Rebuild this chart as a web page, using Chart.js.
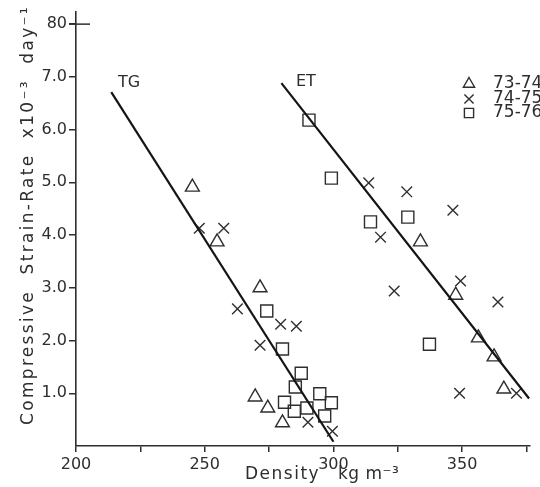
<!DOCTYPE html>
<html>
<head>
<meta charset="utf-8">
<title>Compressive strain-rate vs density</title>
<script src="https://cdn.jsdelivr.net/npm/chart.js@4.4.0/dist/chart.umd.min.js"></script>
<style>
    html, body { margin: 0; padding: 0; background: #ffffff; }
    #wrap { width: 540px; height: 487px; }
</style>
</head>
<body>
<div id="wrap"><canvas id="chart" width="540" height="487"></canvas></div>
<script>
// season 73-74 (triangles)
var tri73Density = [245.2, 254.8, 271.5, 269.6, 274.5, 280.2, 333.8, 347.5, 356.3, 362.4, 366.2];
var tri73Rate    = [4.91, 3.87, 3.00, 0.93, 0.72, 0.44, 3.87, 2.86, 2.05, 1.69, 1.08];

// season 74-75 (crosses)
var cross74Density = [247.9, 257.4, 262.7, 279.5, 285.6, 271.5, 290.1, 299.6, 313.7, 328.5, 346.4, 318.3, 323.6, 349.4, 363.9, 349.0, 371.1];
var cross74Rate    = [4.13, 4.13, 2.60, 2.31, 2.27, 1.91, 0.45, 0.28, 4.99, 4.82, 4.47, 3.96, 2.94, 3.13, 2.73, 1.00, 1.00];

// season 75-76 (squares)
var sq75Density = [290.5, 299.2, 314.4, 328.9, 337.3, 274.1, 280.2, 287.5, 285.2, 294.7, 299.2, 281.0, 284.8, 289.7, 296.6];
var sq75Rate    = [6.18, 5.08, 4.25, 4.34, 1.93, 2.56, 1.84, 1.38, 1.12, 0.99, 0.82, 0.83, 0.66, 0.72, 0.57];

// fitted lines, end points
var tgLineDensity = [213.7, 300.0];
var tgLineRate    = [6.71, 0.08];
var etLineDensity = [279.8, 376.0];
var etLineRate    = [6.88, 0.90];

var seasonLabels = ["73-74", "74-75", "75-76"];
var xTicks = [200, 250, 300, 350];
var yTickLabels = { 1: "1.0", 2: "2.0", 3: "3.0", 4: "4.0", 5: "5.0", 6: "6.0", 7: "7.0", 8: "80" };

var INK = "#2e2e2e";
var FONT = "DejaVu Sans";

function toPoints(xs, ys) {
    return xs.map(function (x, i) { return { x: x, y: ys[i] }; });
}

function markerSet(label, xs, ys, style, radius) {
    return {
        type: "scatter",
        label: label,
        data: toPoints(xs, ys),
        pointStyle: style,
        pointRadius: radius,
        pointBorderColor: INK,
        pointBackgroundColor: "rgba(0,0,0,0)",
        pointBorderWidth: 1.4,
        borderColor: INK,
        backgroundColor: "rgba(0,0,0,0)"
    };
}

function fitLine(label, xs, ys) {
    return {
        type: "line",
        label: label,
        data: toPoints(xs, ys),
        borderColor: "#141414",
        borderWidth: 2.2,
        pointRadius: 0,
        fill: false,
        tension: 0
    };
}

function drawMarker(ctx, style, x, y, r) {
    if (Chart.helpers && Chart.helpers.drawPoint) {
        ctx.save();
        ctx.fillStyle = "rgba(0,0,0,0)";
        ctx.strokeStyle = INK;
        ctx.lineWidth = 1.4;
        Chart.helpers.drawPoint(ctx, { pointStyle: style, radius: r, rotation: 0, borderWidth: 1.4 }, x, y);
        ctx.restore();
    }
}

// axis titles, line names, legend and the long tick at 8.0
var decorations = {
    id: "decorations",
    afterDraw: function (chart) {
        var ctx = chart.ctx;
        var xs = chart.scales.x, ys = chart.scales.y;
        ctx.save();
        ctx.fillStyle = INK;
        ctx.strokeStyle = INK;

        // 8.0 tick crosses the axis
        var y8 = ys.getPixelForValue(8);
        ctx.lineWidth = 1.5;
        ctx.beginPath();
        ctx.moveTo(xs.left - 7, y8);
        ctx.lineTo(xs.left + 14, y8);
        ctx.stroke();

        // y title, stretched to fill the axis height
        var yTitle = "Compressive  Strain-Rate  x10\u207B\u00B3  day\u207B\u00B9";
        ctx.font = "17px '" + FONT + "'";
        ctx.textBaseline = "middle";
        ctx.textAlign = "center";
        var natural = ctx.measureText(yTitle).width;
        var spacing = Math.max(0, (420 - natural) / yTitle.length);
        ctx.letterSpacing = spacing.toFixed(2) + "px";
        ctx.translate(29, 215);
        ctx.rotate(-Math.PI / 2);
        ctx.fillText(yTitle, 0, 0);
        ctx.setTransform(1, 0, 0, 1, 0, 0);

        // x title
        ctx.letterSpacing = "1.5px";
        ctx.textAlign = "left";
        ctx.font = "17px '" + FONT + "'";
        ctx.fillText("Density", 245, 475);
        ctx.letterSpacing = "0.5px";
        ctx.fillText("kg m\u207B\u00B3", 338, 475);

        // line names
        ctx.letterSpacing = "0px";
        ctx.font = "16px '" + FONT + "'";
        ctx.fillText("TG", 118, 83);
        ctx.fillText("ET", 296, 82);

        // legend
        var styles = ["triangle", "crossRot", "rect"];
        var rows = [84, 99, 113];
        ctx.font = "17px '" + FONT + "'";
        for (var i = 0; i < seasonLabels.length; i++) {
            drawMarker(ctx, styles[i], 469, rows[i], 6.5);
            ctx.fillStyle = INK;
            ctx.fillText(seasonLabels[i], 493, rows[i]);
        }
        ctx.restore();
    }
};

new Chart(document.getElementById("chart"), {
    type: "scatter",
    data: {
        datasets: [
            fitLine("TG", tgLineDensity, tgLineRate),
            fitLine("ET", etLineDensity, etLineRate),
            markerSet(seasonLabels[0], tri73Density, tri73Rate, "triangle", 8),
            markerSet(seasonLabels[1], cross74Density, cross74Rate, "crossRot", 7.5),
            markerSet(seasonLabels[2], sq75Density, sq75Rate, "rect", 8.5)
        ]
    },
    options: {
        responsive: false,
        animation: false,
        devicePixelRatio: 1,
        layout: { padding: { top: 12, left: 0, right: 0, bottom: 0 } },
        plugins: {
            legend: { display: false },
            tooltip: { enabled: false }
        },
        scales: {
            x: {
                type: "linear",
                min: 200,
                max: 376.4,
                afterFit: function (s) { s.height = 41; },
                border: { display: true, color: INK, width: 1.6 },
                grid: { drawOnChartArea: false, drawTicks: true, tickLength: 6, color: INK, lineWidth: 1.5 },
                ticks: {
                    stepSize: 25,
                    includeBounds: false,
                    autoSkip: false,
                    maxRotation: 0,
                    padding: 3,
                    color: INK,
                    font: { family: FONT, size: 16 },
                    callback: function (v) { return xTicks.indexOf(v) >= 0 ? String(v) : ""; }
                }
            },
            y: {
                type: "linear",
                min: 0,
                max: 8.23,
                afterFit: function (s) { s.width = 76; },
                border: { display: true, color: INK, width: 1.6 },
                grid: {
                    drawOnChartArea: false,
                    drawTicks: true,
                    tickLength: 7,
                    lineWidth: 1.5,
                    tickColor: function (c) { return c.tick && c.tick.value === 0 ? "rgba(0,0,0,0)" : INK; }
                },
                ticks: {
                    stepSize: 1,
                    includeBounds: false,
                    autoSkip: false,
                    padding: 2,
                    color: INK,
                    font: { family: FONT, size: 16 },
                    callback: function (v) { return yTickLabels[v] || ""; }
                }
            }
        }
    },
    plugins: [decorations]
});
</script>
</body>
</html>
